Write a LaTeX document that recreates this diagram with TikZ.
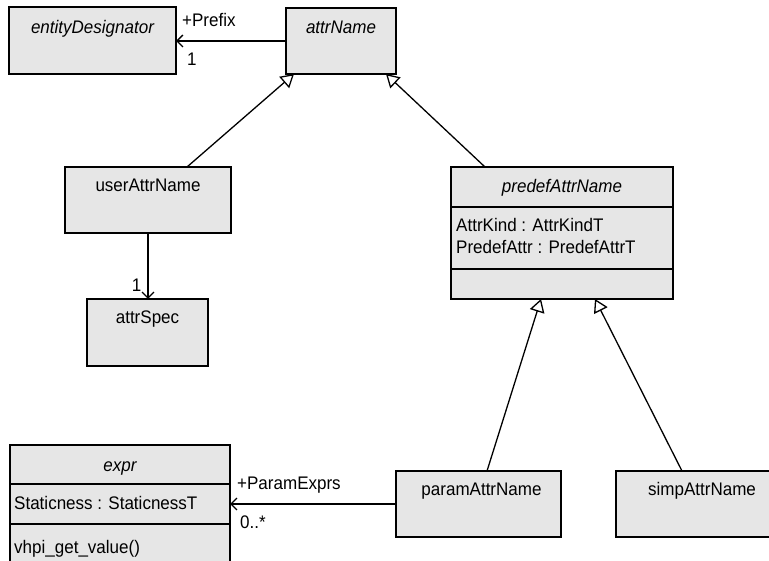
\documentclass[tikz,border=0pt]{standalone}
\usepackage{fontspec}
\setmainfont[FakeStretch=0.935]{Liberation Sans}
\usetikzlibrary{arrows.meta,calc}
\definecolor{boxfill}{RGB}{230,230,230}
\begin{document}
\begin{tikzpicture}[x=1pt,y=-1pt,
  font=\fontsize{18.2}{21}\selectfont,
  cls/.style={draw=black, fill=boxfill, line width=1.3pt, anchor=north west,
              inner sep=0pt, outer sep=0pt},
  sep/.style={draw=black, line width=1.3pt},
  txt/.style={inner sep=0pt, text height=13pt, text depth=0pt},
  gen/.style={draw=black, line width=1.3pt,
              -{Triangle[open, length=13pt, width=15pt, line width=1.3pt]}},
  assoc/.style={draw=black, line width=1.3pt,
              -{Straight Barb[length=6pt, width=12pt, line width=1.3pt]}}
]
\useasboundingbox (0,0) rectangle (769,561);
\clip (0,0) rectangle (769,561);

% classes
\node[cls, minimum width=167pt, minimum height=67pt] (ent)    at (9,7)    {};
\node[cls, minimum width=110pt, minimum height=66pt] (attr)   at (286,8)  {};
\node[cls, minimum width=166pt, minimum height=66pt] (user)   at (65,167) {};
\node[cls, minimum width=121pt, minimum height=67pt] (spec)   at (87,299) {};
\node[cls, minimum width=222pt, minimum height=132pt] (predef) at (451,167) {};
\node[cls, minimum width=220pt, minimum height=135pt] (expr)   at (10,445) {};
\node[cls, minimum width=165pt, minimum height=66pt] (param)  at (396,471) {};
\node[cls, minimum width=174pt, minimum height=66pt] (simp)   at (616,471) {};

% compartments
\draw[sep] ($(predef.north west)+(0,40)$)  -- ($(predef.north east)+(0,40)$);
\draw[sep] ($(predef.north west)+(0,102)$) -- ($(predef.north east)+(0,102)$);
\draw[sep] ($(expr.north west)+(0,39)$)    -- ($(expr.north east)+(0,39)$);
\draw[sep] ($(expr.north west)+(0,79)$)    -- ($(expr.north east)+(0,79)$);

% class names
\node[txt] (ent-t)    at ($(ent.north)+(0,20)$)    {\itshape entityDesignator};
\node[txt] (attr-t)   at ($(attr.north)+(0,19)$)   {\itshape attrName};
\node[txt] (user-t)   at ($(user.north)+(0,18)$)   {userAttrName};
\node[txt] (spec-t)   at ($(spec.north)+(0,18)$)   {attrSpec};
\node[txt] (predef-t) at ($(predef.north)+(0,19)$) {\itshape predefAttrName};
\node[txt] (expr-t)   at ($(expr.north)+(0,20)$)   {\itshape expr};
\node[txt] (param-t)  at ($(param.north)+(3,18)$)  {paramAttrName};
\node[txt] (simp-t)   at ($(simp.north west)+(86,18)$) {simpAttrName};

% attributes and operations
\node[txt, anchor=west] (pa1) at ($(predef.north west)+(5,58)$) {AttrKind : AttrKindT};
\node[txt, anchor=west] (pa2) at ($(predef.north west)+(5,80)$) {PredefAttr : PredefAttrT};
\node[txt, anchor=west] (ea1) at ($(expr.north west)+(4,58)$)   {Staticness : StaticnessT};
\node[txt, anchor=west] (eo1) at ($(expr.north west)+(4,102)$)  {vhpi\_get\_value()};

% generalizations
\draw[gen] ($(user.north west)+(122,0)$)   -- ($(attr.south west)+(8,0)$);
\draw[gen] ($(predef.north west)+(34,0)$)  -- ($(attr.south east)+(-10,0)$);
\draw[gen] ($(param.north west)+(91,0)$)   -- ($(predef.south west)+(90,0)$);
\draw[gen] ($(simp.north west)+(66,0)$)    -- ($(predef.south west)+(144,0)$);

% associations
\draw[assoc] (attr.west) -- (attr.west -| ent.east);
\draw[assoc] (user.south) -- (user.south |- spec.north);
\coordinate (pe) at (param.west -| expr.east);
\draw[assoc] (param.west) -- (pe);

% role names and multiplicities
\node[txt, anchor=west] (l-prefix) at ($(ent.east)+(6,-20)$)  {+Prefix};
\node[txt, anchor=west] (l-one)    at ($(ent.east)+(11,19)$)  {1};
\node[txt, anchor=east] (l-spec)   at ($(spec.north)+(-6,-14)$) {1};
\node[txt, anchor=west] (l-params) at ($(pe)+(7,-21)$)        {+ParamExprs};
\node[txt, anchor=west] (l-many)   at ($(pe)+(10,18)$)        {0..*};
\end{tikzpicture}
\end{document}
